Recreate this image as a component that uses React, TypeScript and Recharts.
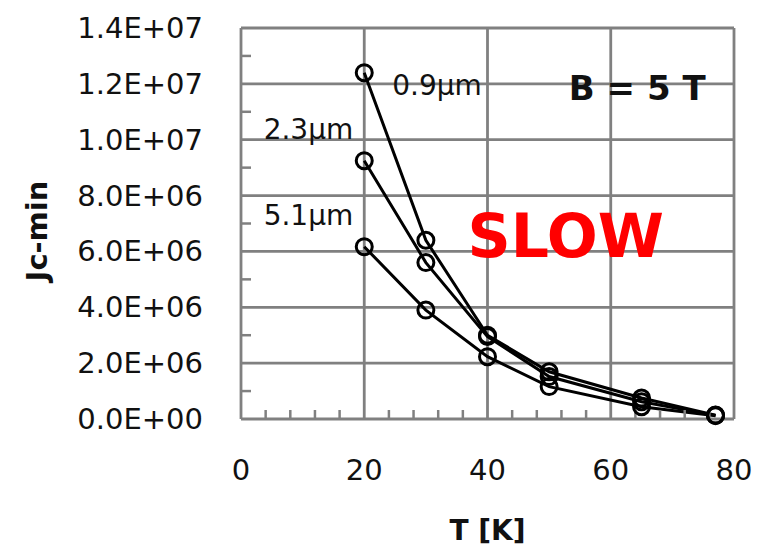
import React from 'react';
import { LineChart, Line, XAxis, YAxis, CartesianGrid, LabelList, ReferenceDot } from 'recharts';

// Temperature points (K)
const temps = [20, 30, 40, 50, 65, 77];

// Jc-min per grain size
const jc09 = [12.4e6, 6.4e6, 3.0e6, 1.69e6, 0.75e6, 0.14e6];
const jc23 = [9.25e6, 5.6e6, 2.95e6, 1.52e6, 0.62e6, 0.13e6];
const jc51 = [6.17e6, 3.9e6, 2.23e6, 1.16e6, 0.44e6, 0.12e6];

const seriesNames = ['0.9\u00b5m', '2.3\u00b5m', '5.1\u00b5m'];

const xTicks = [0, 20, 40, 60, 80];
const xMinorTicks = [4, 8, 12, 16, 24, 28, 32, 36, 44, 48, 52, 56, 64, 68, 72, 76];
const yTicks = [0, 2e6, 4e6, 6e6, 8e6, 10e6, 12e6, 14e6];
const yMinorTicks = [1e6, 3e6, 5e6, 7e6, 9e6, 11e6, 13e6];
const yAllTicks = [...yTicks, ...yMinorTicks].sort((a, b) => a - b);

const data = temps.map((t, i) => ({ t, s09: jc09[i], s23: jc23[i], s51: jc51[i] }));

const FONT = '"DejaVu Sans", sans-serif';
const GRID = '#808080';
const Y_MARGIN = 38;

const fmtE = (v: number) => {
  const [m, e] = v.toExponential(1).split('e');
  const sign = e[0];
  const digits = e.slice(1).padStart(2, '0');
  return `${m}E${sign}${digits}`;
};

const noTick = () => <g />;

// major ticks get a label, minor ones a short inward tick mark
const YTick = (props: any) => {
  const { x, y, payload } = props;
  if (yMinorTicks.includes(payload.value)) {
    const ax = x + Y_MARGIN;
    return <line x1={ax} x2={ax + 10} y1={y} y2={y} stroke={GRID} strokeWidth={2.5} />;
  }
  return (
    <text x={x} y={y} textAnchor="end" dominantBaseline="central"
      style={{ fontFamily: FONT, fontSize: 29, fill: '#111' }}>
      {fmtE(payload.value)}
    </text>
  );
};

// label only on the first point of each series
const firstLabel = (text: string, dx: number, dy: number, anchor: string) => (props: any) => {
  if (props.index !== 0) return null;
  return (
    <text x={props.x + dx} y={props.y + dy} textAnchor={anchor} dominantBaseline="central"
      style={{ fontFamily: FONT, fontSize: 28, fill: '#111' }}>
      {text}
    </text>
  );
};

const App = () => {
  return (
    <div style={{ width: 768, height: 552, background: '#fff' }}>
      <style>{`body{margin:0}`}</style>
      <LineChart width={768} height={552} data={data} margin={{ top: 28, right: 34, bottom: 0, left: 0 }}>
        <CartesianGrid stroke={GRID} strokeWidth={2.8} verticalValues={xTicks} horizontalValues={yTicks} />
        <XAxis
          dataKey="t"
          type="number"
          domain={[0, 80]}
          ticks={xTicks}
          interval={0}
          axisLine={false}
          tickLine={false}
          tickSize={0}
          tickMargin={40}
          height={133}
          tick={{ fontFamily: FONT, fontSize: 29, fill: '#111' }}
          label={{ value: 'T [K]', position: 'insideBottom', offset: 12, style: { fontFamily: FONT, fontSize: 28, fontWeight: 'bold', fill: '#111' } }}
        />
        <XAxis
          xAxisId="minor"
          dataKey="t"
          type="number"
          domain={[0, 80]}
          ticks={xMinorTicks}
          interval={0}
          mirror
          axisLine={false}
          tickSize={9}
          tickLine={{ stroke: GRID, strokeWidth: 2.5 }}
          tick={noTick}
        />
        <YAxis
          type="number"
          domain={[0, 14e6]}
          ticks={yAllTicks}
          interval={0}
          width={241}
          axisLine={false}
          tickLine={false}
          tickSize={0}
          tickMargin={Y_MARGIN}
          tick={YTick}
          label={{
            content: () => (
              <text x={37} y={231} transform="rotate(-90 37 231)" textAnchor="middle" dominantBaseline="central"
                style={{ fontFamily: FONT, fontSize: 29, fontWeight: 'bold', fill: '#111' }}>
                Jc-min
              </text>
            ),
          }}
        />
        <ReferenceDot x={64.3} y={11.85e6} r={0} fill="none" stroke="none"
          label={{ value: 'B = 5 T', position: 'center', style: { fontFamily: FONT, fontSize: 34, fontWeight: 'bold', fill: '#111' } }} />
        <ReferenceDot x={52.7} y={6.55e6} r={0} fill="none" stroke="none"
          label={{ value: 'SLOW', position: 'center', style: { fontFamily: FONT, fontSize: 60, fontWeight: 'bold', fill: '#ff0000' } }} />
        <Line dataKey="s09" stroke="#000" strokeWidth={3} dot={{ r: 8, fill: 'none', stroke: '#000', strokeWidth: 3 }} isAnimationActive={false}>
          <LabelList dataKey="s09" content={firstLabel(seriesNames[0], 28, 13, 'start')} />
        </Line>
        <Line dataKey="s23" stroke="#000" strokeWidth={3} dot={{ r: 8, fill: 'none', stroke: '#000', strokeWidth: 3 }} isAnimationActive={false}>
          <LabelList dataKey="s23" content={firstLabel(seriesNames[1], -11, -31, 'end')} />
        </Line>
        <Line dataKey="s51" stroke="#000" strokeWidth={3} dot={{ r: 8, fill: 'none', stroke: '#000', strokeWidth: 3 }} isAnimationActive={false}>
          <LabelList dataKey="s51" content={firstLabel(seriesNames[2], -11, -31, 'end')} />
        </Line>
      </LineChart>
    </div>
  );
};

export default App;
